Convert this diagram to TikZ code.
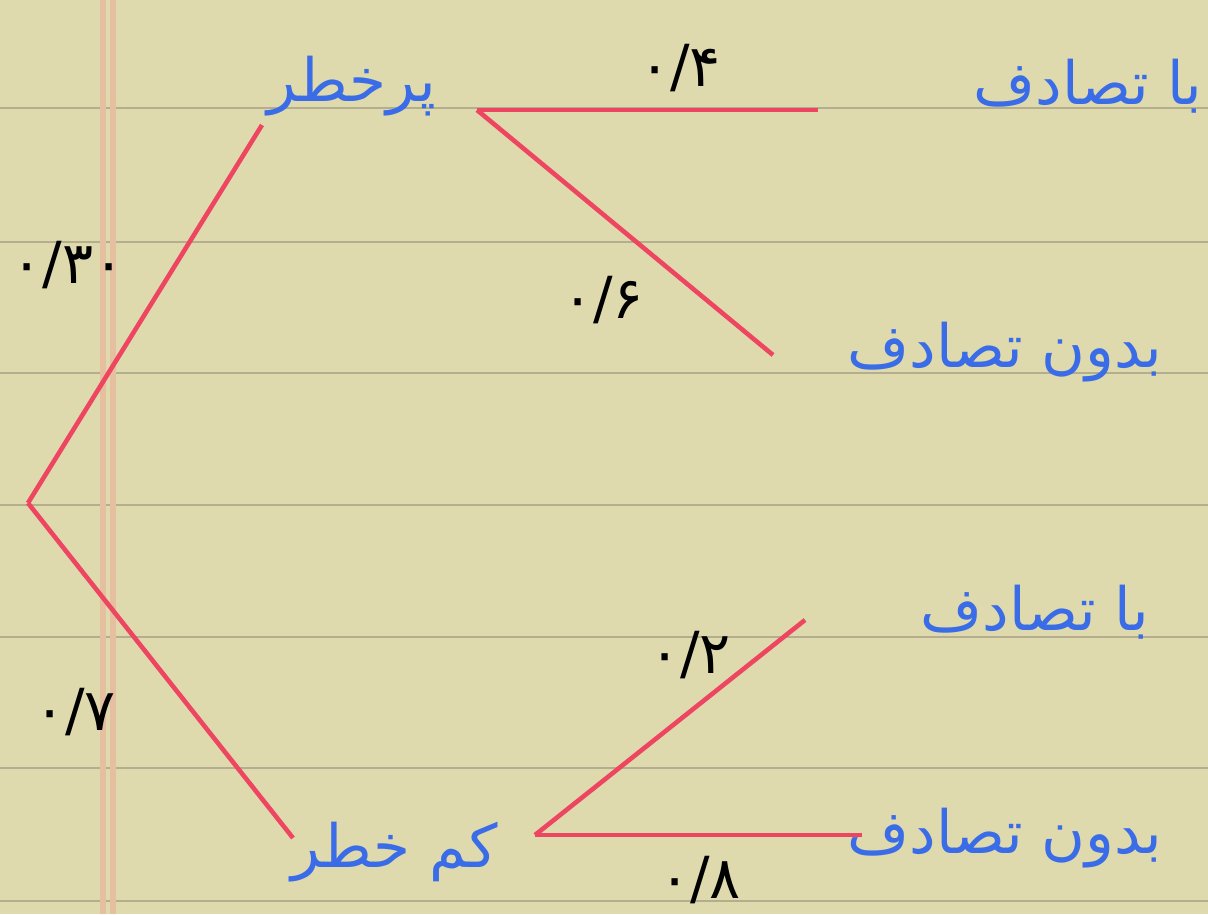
\documentclass[tikz,border=0pt]{standalone}
\usepackage{fontspec}
\newfontfamily\arabicfont[Script=Arabic]{DejaVu Sans}
\TeXXeTstate=1
\usetikzlibrary{positioning}
\definecolor{PaperTan}{RGB}{222,218,174}
\definecolor{RuleGray}{RGB}{180,174,142}
\definecolor{MarginPink}{RGB}{230,190,160}
\definecolor{BranchRed}{RGB}{238,70,96}
\definecolor{InkBlue}{RGB}{58,108,232}

\begin{document}
\begin{tikzpicture}[x=0.02cm, y=-0.02cm,
    branch/.style={BranchRed, line width=2.6pt},
    outcome/.style={text=InkBlue, font=\arabicfont\fontsize{34}{40}\selectfont, inner sep=0pt},
    prob/.style={font=\arabicfont\fontsize{33}{38}\selectfont, inner sep=0pt}]
    % Paper
    \fill[PaperTan] (0,0) rectangle (1208,914);
    \useasboundingbox (0,0) rectangle (1208,914);
    \foreach \y in {108, 242, 373, 505, 637, 768, 901} {
      \draw[RuleGray, line width=1.1pt] (0,\y) -- (1208,\y);
    }
    \draw[MarginPink, line width=3pt] (103,0) -- (103,914);
    \draw[MarginPink, line width=3pt] (113,0) -- (113,914);

    % Branch end points
    \coordinate (root) at (28,503);
    \coordinate (hiIn) at (262,125);
    \coordinate (hiOut) at (477,110);
    \coordinate (loIn) at (293,838);
    \coordinate (loOut) at (535,835);
    \coordinate (hiA) at (818,110);
    \coordinate (hiB) at (773,355);
    \coordinate (loA) at (805,620);
    \coordinate (loB) at (862,835);

    % Branches
    \draw[branch] (root) -- (hiIn);
    \draw[branch] (root) -- (loIn);
    \draw[branch] (hiOut) -- (hiA);
    \draw[branch] (hiOut) -- (hiB);
    \draw[branch] (loOut) -- (loA);
    \draw[branch] (loOut) -- (loB);

    % Groups
    \node[outcome] (high) at (352,86) {\beginR پرخطر\endR};
    \node[outcome] (low) at (395,852) {\beginR کم خطر\endR};

    % Outcomes
    \node[outcome] (highA) at (1088,86) {\beginR با تصادف\endR};
    \node[outcome] (highB) at (1005,352) {\beginR بدون تصادف\endR};
    \node[outcome] (lowA) at (1035,612) {\beginR با تصادف\endR};
    \node[outcome] (lowB) at (1005,838) {\beginR بدون تصادف\endR};

    % Probabilities
    \node[prob] (pHigh) at (68,265) {۰/۳۰};
    \node[prob] (pLow) at (75,712) {۰/۷};
    \node[prob] (pHiA) at (680,68) {۰/۴};
    \node[prob] (pHiB) at (603,300) {۰/۶};
    \node[prob] (pLoA) at (690,655) {۰/۲};
    \node[prob] (pLoB) at (700,880) {۰/۸};
\end{tikzpicture}
\end{document}
